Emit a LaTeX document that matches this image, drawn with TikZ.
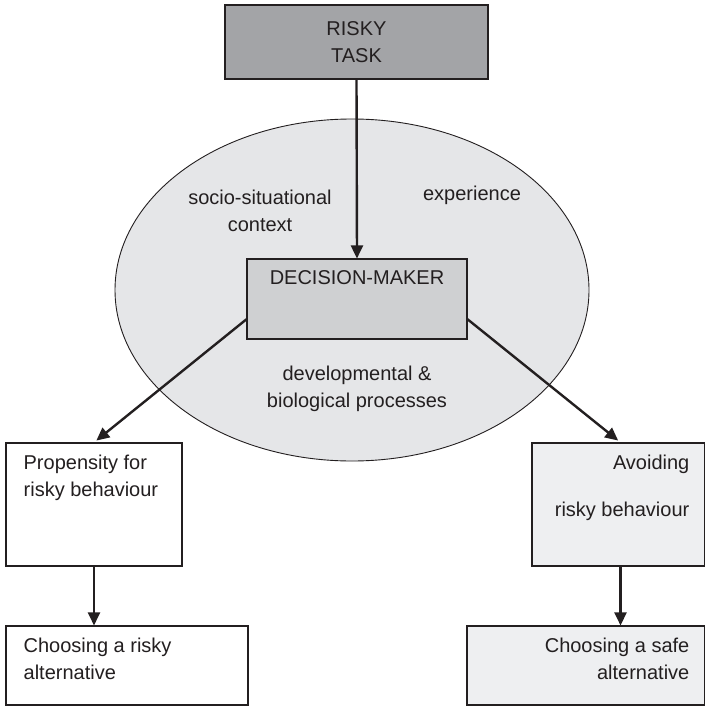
\documentclass[tikz,border=0pt]{standalone}
\usepackage{fontspec}
\setmainfont{Liberation Sans}
\usetikzlibrary{calc,arrows.meta}
\definecolor{taskgray}{HTML}{A3A4A7}
\definecolor{dmgray}{HTML}{CFD0D2}
\definecolor{ellgray}{HTML}{E5E6E8}
\definecolor{lightbox}{HTML}{EEEFF1}
\definecolor{ink}{HTML}{231F20}
\tikzset{
    box/.style={draw=ink, line width=1.1pt, rectangle, inner sep=0pt},
    boxtext/.style={inner sep=0pt, text=ink},
    flow/.style={draw=ink, line width=2.4pt, -{Triangle[length=13pt,width=12pt]}},
}

\begin{document}
\begin{tikzpicture}[x=1pt,y=-1pt,font=\fontsize{20}{27}\selectfont]
\useasboundingbox (0,0) rectangle (704,706);
% context ellipse
\draw[fill=ellgray,draw=ink,line width=0.9pt] (352,290) ellipse [x radius=237, y radius=171];
\node[boxtext,align=center] (socio) at (260,211) {socio-situational\\context};
\node[boxtext] (exper) at (472,195) {experience};
\node[boxtext,align=center] (devel) at (357,389) {developmental \&\\biological processes};
% boxes
\node[box,fill=taskgray,line width=1.6pt,minimum width=263,minimum height=74,align=center,text=ink] (task) at (356.5,42) {RISKY\\TASK};
\node[box,fill=dmgray,minimum width=220,minimum height=80] (dm) at (357,299) {};
\node[boxtext,anchor=north] (dmT) at ([yshift=-12pt]dm.north) {DECISION-MAKER};
\node[box,fill=white,minimum width=176,minimum height=123] (prop) at (94,504.5) {};
\node[boxtext,align=left,anchor=north west] (propT) at ([shift={(18,12)}]prop.north west) {Propensity for\\risky behaviour};
\node[box,fill=white,minimum width=242,minimum height=79] (risky) at (127,665.5) {};
\node[boxtext,align=left,anchor=north west] (riskyT) at ([shift={(18,12)}]risky.north west) {Choosing a risky\\alternative};
\node[box,fill=lightbox,minimum width=173,minimum height=123] (avoid) at (618.5,504.5) {};
\node[boxtext,align=right,anchor=north east] (avoidT) at ([shift={(-16,12)}]avoid.north east) {Avoiding\\[20pt]risky behaviour};
\node[box,fill=lightbox,minimum width=238,minimum height=79] (safe) at (586,665.5) {};
\node[boxtext,align=right,anchor=north east] (safeT) at ([shift={(-16,12)}]safe.north east) {Choosing a safe\\alternative};
% arrows
\draw[flow] (task.south) -- (dm.north);
\draw[flow,shorten >=3pt] ($(dm.south west)!0.25!(dm.north west)$) -- (prop.north);
\draw[flow,shorten >=3pt] ($(dm.south east)!0.25!(dm.north east)$) -- ([xshift=2pt]avoid.north);
\draw[flow] (prop.south) -- (prop.south |- risky.north);
\draw[flow] ([xshift=2pt]avoid.south) -- ([xshift=2pt]avoid.south |- safe.north);
\end{tikzpicture}
\end{document}
